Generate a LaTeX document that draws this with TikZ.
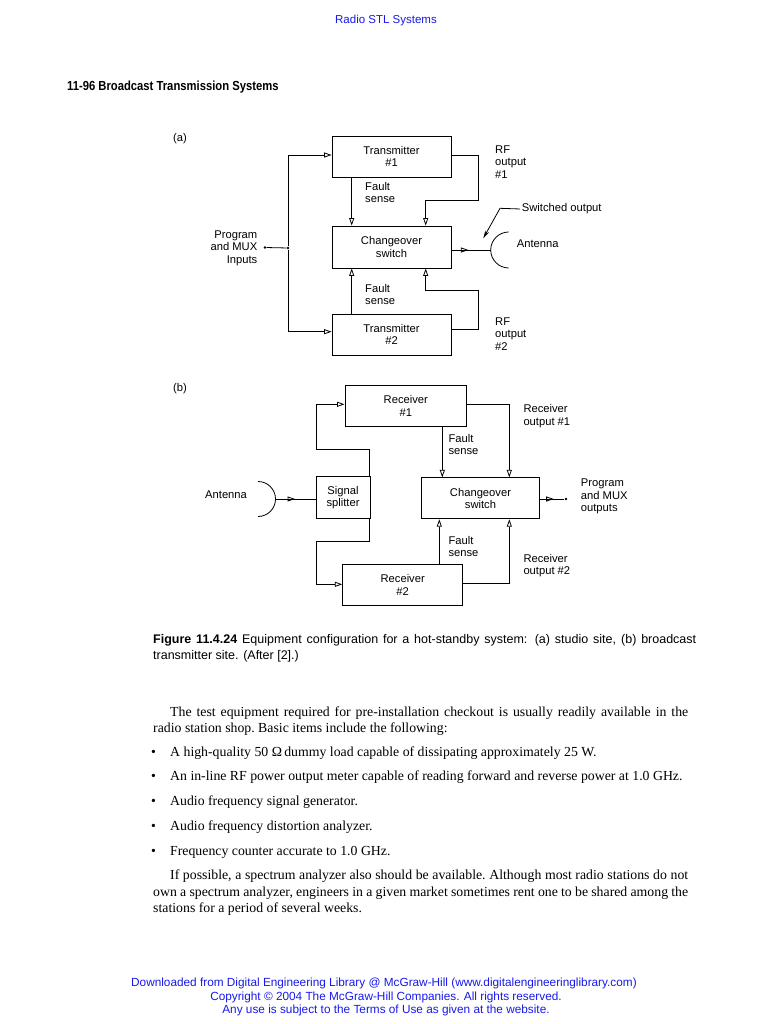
\documentclass[tikz,border=0pt]{standalone}
\usepackage{graphicx}
\usepackage{fontspec}
\setmainfont{Liberation Serif}
\newfontfamily\sansf{Liberation Sans}
\usetikzlibrary{arrows.meta,calc,decorations.markings}
\definecolor{linkblue}{RGB}{25,25,235}
\tikzset{
  box/.style={draw, line width=0.8pt, minimum width=119pt, minimum height=41pt, inner sep=0pt,
    font=\sansf\fontsize{11.2}{12.5}\selectfont, align=center},
  lbl/.style={font=\sansf\fontsize{11.2}{12.5}\selectfont, inner sep=0pt, align=left, anchor=west},
  wire/.style={line width=0.8pt},
  arr/.style={wire, -{Triangle[open,length=7.5pt,width=5pt]}},
  midarr/.style={wire, postaction={decorate}, decoration={markings,
    mark=at position #1 with {\arrow{Triangle[open,length=7.5pt,width=5pt]}}}},
  jdot/.style={circle, fill, inner sep=0pt, minimum size=2.8pt},
  body/.style={anchor=base west, inner sep=0pt, font=\fontsize{13.8}{16}\selectfont\frenchspacing},
  foot/.style={anchor=base, inner sep=0pt, text=linkblue, font=\sansf\fontsize{11.8}{13}\selectfont},
}
\begin{document}
\begin{tikzpicture}[x=1pt,y=-1pt]
\path[use as bounding box, fill=white] (0,0) rectangle (759,1024);

% running heads
\node[anchor=base, inner sep=0pt, text=linkblue, font=\sansf\fontsize{11.5}{13}\selectfont] (hdr) at (386,24) {Radio STL Systems};
\node[anchor=base west, inner sep=0pt] (runhead) at (67,90.5) {\scalebox{0.9}[1.05]{\sansf\bfseries\fontsize{12.5}{14}\selectfont 11-96 Broadcast Transmission Systems}};

% ---------------- part (a)
\node[lbl] (la) at (173,139) {(a)};
\node[box] (T1) at (391.5,156.5) {Transmitter\\\#1};
\node[box, minimum height=42pt] (CSa) at (391.5,247) {Changeover\\switch};
\node[box] (T2) at (391.5,334.5) {Transmitter\\\#2};

\node[jdot] (in) at (265,247.5) {};
\node[jdot] (ja) at (288,248) {};
\node[lbl, anchor=east, align=right] (prog) at (257.5,248) {Program\\and MUX\\Inputs};
\draw[wire] (in) -- (ja);
\draw[arr] (ja) |- ([yshift=1.5pt]T1.west);
\draw[arr] (ja) |- ([yshift=2.8pt]T2.west);

\coordinate (fa) at (351.7,0);
\coordinate (rfa) at (425.7,0);
\draw[arr] (fa |- T1.south) -- (fa |- CSa.north);
\draw[arr] (fa |- T2.north) -- (fa |- CSa.south);
\draw[arr] ([yshift=1.5pt]T1.east) -| (478.3,200.7) -| (rfa |- CSa.north);
\draw[arr] ([yshift=5.2pt]T2.east) -| (478.3,290.7) -| (rfa |- CSa.south);

\coordinate (anta) at (490.7,250);
\draw[midarr=17pt] ([yshift=-3pt]CSa.east) -- (anta);
\draw[wire] (508.7,232) .. controls (498.8,232) and (490.7,240.1) .. (anta)
  .. controls (490.7,259.9) and (498.8,268) .. (508.7,268);
\node[lbl] (antlbl) at (516.7,243.3) {Antenna};
\node[lbl] (swl) at (521.7,209) {Switched output};
\coordinate (sw1) at (500,208.3);
\draw[wire] ([xshift=-1.5pt]swl.west) -- (sw1);
\draw[wire, -{Stealth[length=8pt,width=4pt]}] (sw1) -- (483.3,238.3);

\node[lbl] (fs1) at (365,192.5) {Fault\\sense};
\node[lbl] (rf1) at (495,161.7) {RF\\output\\\#1};
\node[lbl] (fs2) at (365,294.5) {Fault\\sense};
\node[lbl] (rf2) at (495,334) {RF\\output\\\#2};

% ---------------- part (b)
\node[lbl] (lb) at (173,389) {(b)};
\node[box, minimum width=121.7pt] (R1) at (405.8,405.8) {Receiver\\\#1};
\node[box, minimum width=54pt, minimum height=41.6pt] (SS) at (343,497.5) {Signal\\splitter};
\node[box, minimum width=117.6pt] (CSb) at (480.5,498.3) {Changeover\\switch};
\node[box, minimum width=120pt] (R2) at (402.7,585) {Receiver\\\#2};

\coordinate (sx) at (369,0);
\draw[arr] (sx |- SS.north) |- (316.7,449) |- ([yshift=1.5pt]R1.west);
\draw[arr] (sx |- SS.south) |- (316,541.7) |- ([yshift=0.7pt]R2.west);

\coordinate (antb) at (275.5,499);
\draw[wire] (258,481.5) .. controls (267.7,481.5) and (275.5,489.3) .. (antb)
  .. controls (275.5,508.7) and (267.7,516.5) .. (258,516.5);
\draw[midarr=19.5pt] (antb) -- (antb -| SS.west);
\node[lbl] (antblbl) at (205,494.3) {Antenna};

\coordinate (fb1) at (442.3,0);
\coordinate (fb2) at (439.3,0);
\coordinate (rb) at (509.3,0);
\draw[arr] (fb1 |- R1.south) -- (fb1 |- CSb.north);
\draw[arr] (fb2 |- R2.north) -- (fb2 |- CSb.south);
\draw[arr] ([yshift=1.5pt]R1.east) -| (rb |- CSb.north);
\draw[arr] ([yshift=1.7pt]R2.east) -| (rb |- CSb.south);

\node[jdot] (outb) at (566,499) {};
\draw[midarr=14pt] (CSb.east |- outb) -- (outb);

\node[lbl] (fs3) at (448.3,444.7) {Fault\\sense};
\node[lbl] (ro1) at (523.3,416) {Receiver\\output \#1};
\node[lbl] (pmo) at (580.7,496.7) {Program\\and MUX\\outputs};
\node[lbl] (fs4) at (448.3,546.7) {Fault\\sense};
\node[lbl] (ro2) at (523.3,565.8) {Receiver\\output \#2};

% ---------------- caption
\node[anchor=base west, inner sep=0pt] (cap) at (153,643) {\parbox[t]{543pt}{\sansf\fontsize{12.5}{16.5}\selectfont\textbf{Figure 11.4.24} Equipment configuration for a hot-standby system: (a) studio site, (b) broadcast\linebreak transmitter site. (After [2].)}};

% ---------------- body text
\node[body] (p1) at (153,716.5) {\parbox[t]{535pt}{\hspace*{17pt}The test equipment required for pre-installation checkout is usually readily available in the\linebreak radio station shop. Basic items include the following:}};
\node[body] (i1) at (151,756.5) {\makebox[19pt][l]{•}A high-quality 50 Ω\,dummy load capable of dissipating approximately 25 W.};
\node[body] (i2) at (151,780.5) {\makebox[19pt][l]{•}An in-line RF power output meter capable of reading forward and reverse power at 1.0 GHz.};
\node[body] (i3) at (151,805.5) {\makebox[19pt][l]{•}Audio frequency signal generator.};
\node[body] (i4) at (151,830.5) {\makebox[19pt][l]{•}Audio frequency distortion analyzer.};
\node[body] (i5) at (151,855.5) {\makebox[19pt][l]{•}Frequency counter accurate to 1.0 GHz.};
\node[body] (p2) at (153,879.5) {\parbox[t]{535pt}{\fontsize{13.8}{16.5}\selectfont\hspace*{17pt}If possible, a spectrum analyzer also should be available. Although most radio stations do not\linebreak own a spectrum analyzer, engineers in a given market sometimes rent one to be shared among the\linebreak stations for a period of several weeks.}};

% ---------------- footer
\node[foot] (f1) at (384,986.7) {Downloaded from Digital Engineering Library @ McGraw-Hill (www.digitalengineeringlibrary.com)};
\node[foot] (f2) at (386,1000.4) {Copyright © 2004 The McGraw-Hill Companies. All rights reserved.};
\node[foot] (f3) at (386,1013.6) {Any use is subject to the Terms of Use as given at the website.};
\end{tikzpicture}
\end{document}
